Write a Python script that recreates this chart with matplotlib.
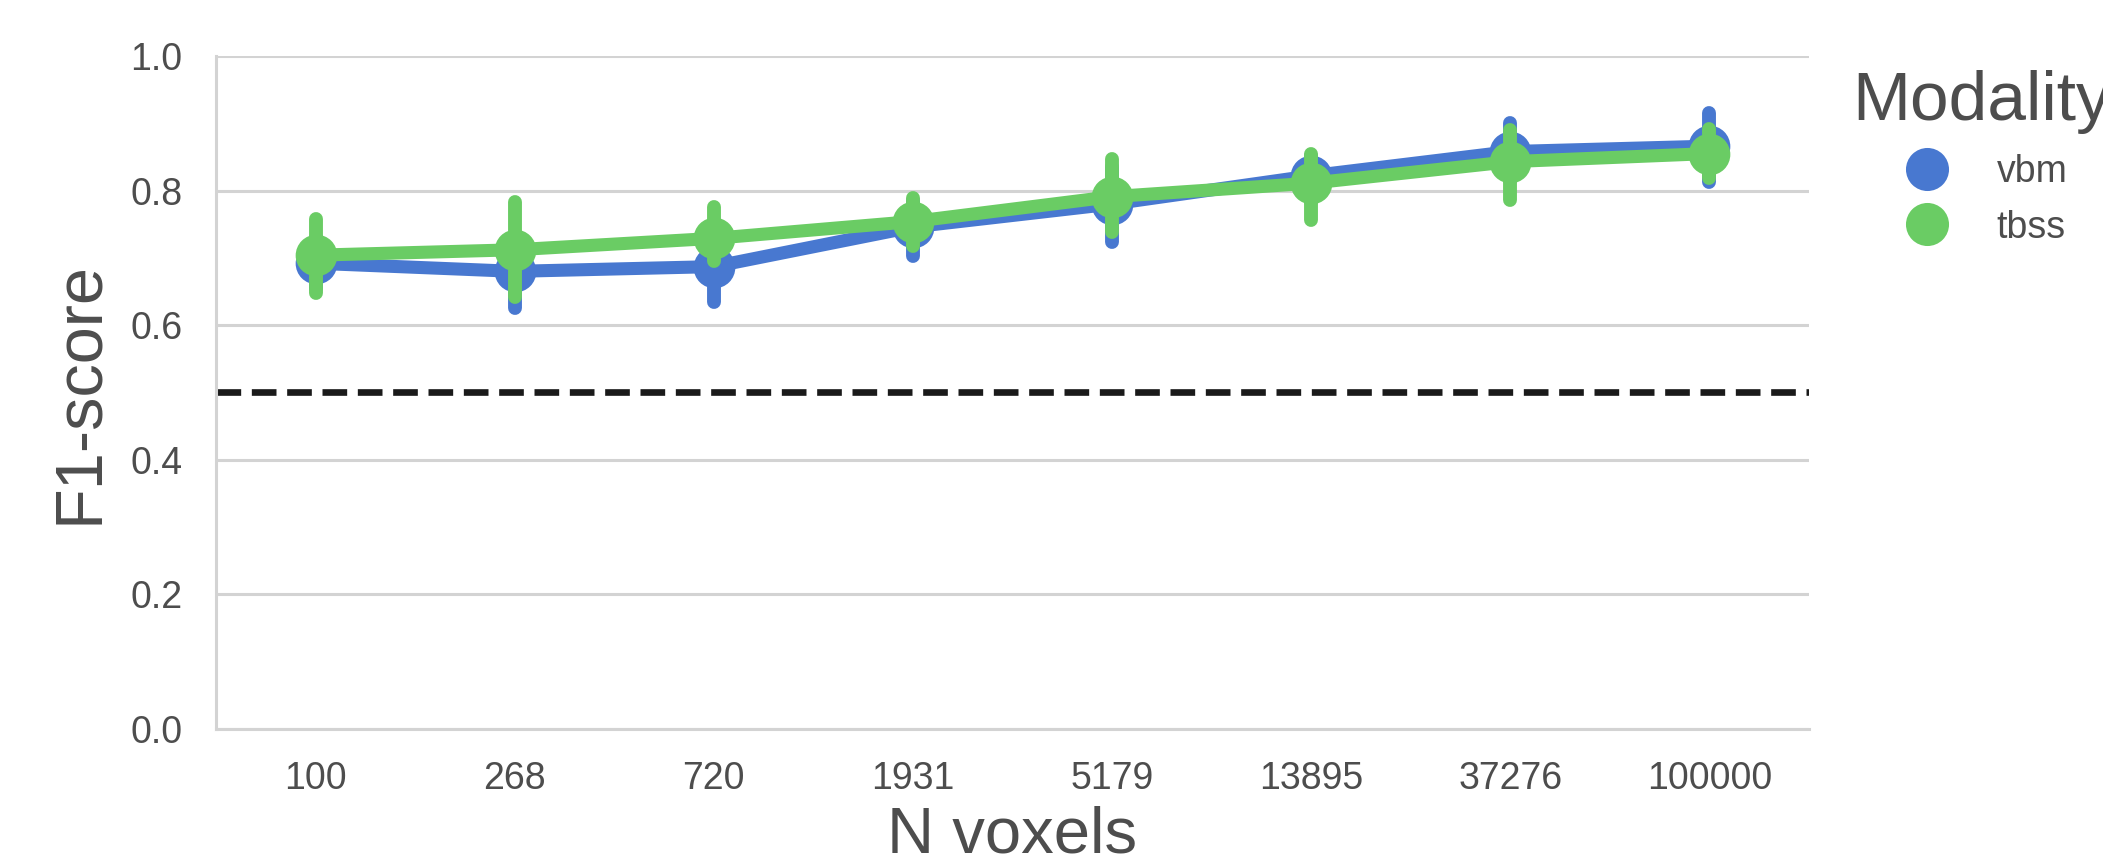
import matplotlib
matplotlib.use("Agg")
import matplotlib.pyplot as plt
from matplotlib.lines import Line2D
import numpy as np

plt.rcParams['font.family'] = ['Liberation Sans', 'DejaVu Sans']

# Categories on the x axis
n_voxels = ['100', '268', '720', '1931', '5179', '13895', '37276', '100000']

# Mean F1-score and confidence interval per modality
vbm_mean = [0.692, 0.680, 0.687, 0.746, 0.780, 0.822, 0.858, 0.866]
vbm_lo = [0.655, 0.626, 0.634, 0.703, 0.723, 0.785, 0.815, 0.812]
vbm_hi = [0.730, 0.735, 0.740, 0.785, 0.835, 0.852, 0.900, 0.915]

tbss_mean = [0.704, 0.712, 0.729, 0.754, 0.791, 0.811, 0.843, 0.855]
tbss_lo = [0.648, 0.642, 0.695, 0.718, 0.738, 0.757, 0.786, 0.819]
tbss_hi = [0.758, 0.783, 0.776, 0.789, 0.847, 0.855, 0.890, 0.892]

chance_level = 0.5

modalities = ['vbm', 'tbss']
colors = {'vbm': '#4878d0', 'tbss': '#6acc64'}
series = {
    'vbm': (vbm_mean, vbm_lo, vbm_hi),
    'tbss': (tbss_mean, tbss_lo, tbss_hi),
}

text_color = '#4d4d4d'
grid_color = '#d3d3d3'

fig = plt.figure(figsize=(21.03, 8.61), dpi=100)
ax = fig.add_axes([0.1027, 0.1533, 0.7575, 0.7817])

x = np.arange(len(n_voxels))
for i, mod in enumerate(modalities):
    mean, lo, hi = series[mod]
    c = colors[mod]
    z = 3 + i * 3
    ax.plot(x, mean, color=c, lw=9.4, solid_capstyle='round', zorder=z)
    for xi, l, h in zip(x, lo, hi):
        ax.plot([xi, xi], [l, h], color=c, lw=10, solid_capstyle='round',
                zorder=z + 1)
    ax.plot(x, mean, linestyle='none', marker='o', markersize=30,
            markerfacecolor=c, markeredgewidth=0, zorder=z + 2)

ax.axhline(chance_level, color='#1a1a1a', lw=4.8, linestyle='--', zorder=2)

ax.set_xlim(-0.5, len(n_voxels) - 0.5)
ax.set_ylim(0, 1)
ax.set_xticks(x)
ax.set_xticklabels(n_voxels)
ax.set_yticks(np.arange(0, 1.01, 0.2))
ax.set_yticklabels([f'{v:.1f}' for v in np.arange(0, 1.01, 0.2)])

ax.grid(axis='y', color=grid_color, lw=2.2, zorder=0)
ax.set_axisbelow(True)
for side in ('top', 'right'):
    ax.spines[side].set_visible(False)
for side in ('left', 'bottom'):
    ax.spines[side].set_color(grid_color)
    ax.spines[side].set_linewidth(2.2)

ax.tick_params(axis='both', length=0, labelsize=27, colors=text_color)
ax.tick_params(axis='x', pad=23)
ax.tick_params(axis='y', pad=24)

ax.set_xlabel('N voxels', fontsize=47, color=text_color, labelpad=6)
ax.set_ylabel('F1-score', fontsize=48, color=text_color, labelpad=14)

# Legend: title drawn as figure text, entries as a frameless legend
fig.text(0.881, 1 - 120 / 861, 'Modality', fontsize=50, color=text_color,
         ha='left', va='baseline')
handles = [Line2D([], [], linestyle='none', marker='o', markersize=31,
                  markerfacecolor=colors[m], markeredgewidth=0, label=m)
           for m in modalities]
leg = ax.legend(handles=handles, loc='upper left',
                bbox_to_anchor=(0.9075, 0.821), bbox_transform=fig.transFigure,
                frameon=False, fontsize=27,
                handlelength=1.0, handletextpad=1.35, labelspacing=0.52,
                borderaxespad=0, borderpad=0)
for t in leg.get_texts():
    t.set_color(text_color)

fig.savefig('out.png', dpi=100)
